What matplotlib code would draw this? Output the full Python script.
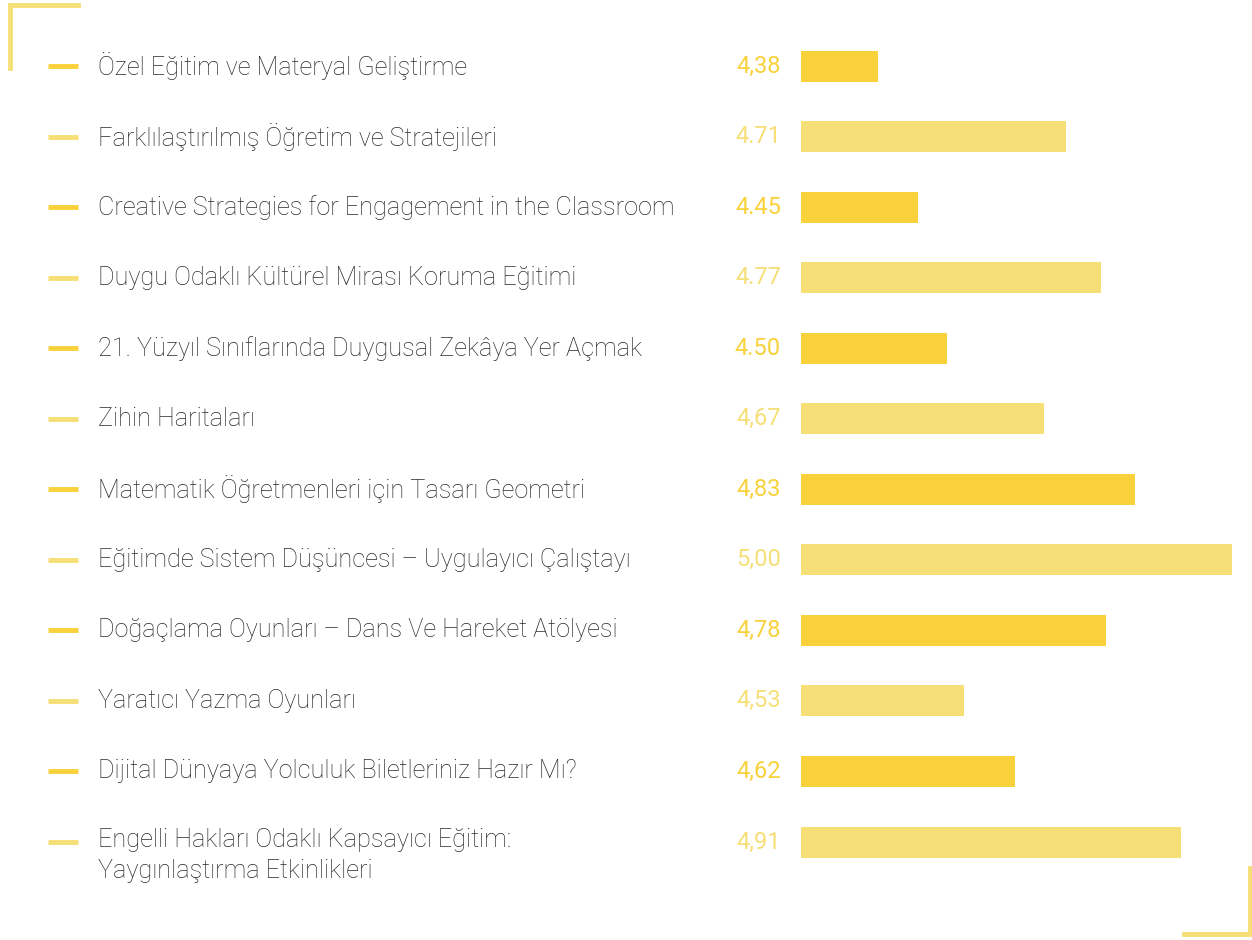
import matplotlib
matplotlib.use('Agg')
import matplotlib.pyplot as plt
from matplotlib.transforms import blended_transform_factory
from matplotlib.lines import Line2D


topics = [
    'Özel Eğitim ve Materyal Geliştirme',
    'Farklılaştırılmış Öğretim ve Stratejileri',
    'Creative Strategies for Engagement in the Classroom',
    'Duygu Odaklı Kültürel Mirası Koruma Eğitimi',
    '21. Yüzyıl Sınıflarında Duygusal Zekâya Yer Açmak',
    'Zihin Haritaları',
    'Matematik Öğretmenleri için Tasarı Geometri',
    'Eğitimde Sistem Düşüncesi – Uygulayıcı Çalıştayı',
    'Doğaçlama Oyunları – Dans Ve Hareket Atölyesi',
    'Yaratıcı Yazma Oyunları',
    'Dijital Dünyaya Yolculuk Biletleriniz Hazır Mı?',
    'Engelli Hakları Odaklı Kapsayıcı Eğitim:\nYaygınlaştırma Etkinlikleri',
]
scores = [4.38, 4.71, 4.45, 4.77, 4.50, 4.67, 4.83, 5.00, 4.78, 4.53, 4.62, 4.91]
score_labels = ['4,38', '4.71', '4.45', '4.77', '4.50', '4,67',
                '4,83', '5,00', '4,78', '4,53', '4,62', '4,91']

dark = '#F9D13A'
light = '#F6DF77'
text_col = '#2a2a2a'

W, H = 1252, 940
fig = plt.figure(figsize=(W / 100, H / 100), dpi=100)
fig.patch.set_facecolor('white')

# bar area, one row = 70.5 px
ax = fig.add_axes([801 / W, 1 - 877.3 / H, 448 / W, 846.5 / H])
ax.set_xlim(4.245, 5.03)
ax.set_ylim(11.5, -0.5)
ax.axis('off')

rows = list(range(len(topics)))
colors = [dark if i % 2 == 0 else light for i in rows]
ax.barh(rows, [s - 4.245 for s in scores], left=4.245, height=0.44, color=colors)

tr = blended_transform_factory(fig.transFigure, ax.transData)
for i, (t, lab) in enumerate(zip(topics, score_labels)):
    c = colors[i]
    # little dash in front of topic
    ax.add_line(Line2D([48 / W, 78 / W], [i, i], transform=tr, color=c,
                       lw=3.5, clip_on=False, solid_capstyle='butt'))
    if '\n' in t:
        ax.text(98 / W, i - 0.2, t, transform=tr, ha='left', va='top',
                fontsize=18.2, family='Roboto', fontweight='light',
                color=text_col, linespacing=1.35)
    else:
        ax.text(98 / W, i, t, transform=tr, ha='left', va='center',
                fontsize=18.2, family='Roboto', fontweight='light', color=text_col)
    ax.text(781 / W, i, lab, transform=tr, ha='right', va='center',
            fontsize=17, family='Roboto', fontweight='normal', color=c)

# corner brackets
def px(x, y):
    return x / W, 1 - y / H

for xs, ys in [([78, 10, 10], [5, 5, 68]), ([1184, 1250, 1250], [934, 934, 868])]:
    pts = [px(x, y) for x, y in zip(xs, ys)]
    fig.add_artist(Line2D([p[0] for p in pts], [p[1] for p in pts],
                          transform=fig.transFigure, color=light, lw=3.5,
                          solid_joinstyle='miter'))

plt.savefig('out.png', dpi=100, facecolor='white')
plt.close()
